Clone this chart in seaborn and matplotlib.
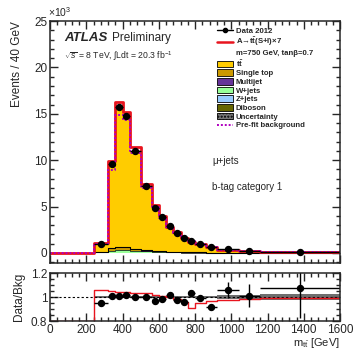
import matplotlib
matplotlib.use('Agg')
import matplotlib.pyplot as plt
import matplotlib.patches as mpatches
import matplotlib.lines as mlines
from matplotlib.ticker import MultipleLocator
import numpy as np
import pandas as pd
import seaborn as sns

sns.set_style('ticks')
plt.rcParams['font.family'] = ['Liberation Sans', 'DejaVu Sans']
plt.rcParams['mathtext.fontset'] = 'custom'
plt.rcParams['mathtext.rm'] = 'Liberation Sans'
plt.rcParams['mathtext.it'] = 'Liberation Sans:italic'
plt.rcParams['mathtext.bf'] = 'Liberation Sans:bold'

# bin edges of m_tt [GeV]
edges = [0, 240, 320, 360, 400, 440, 500, 560, 600, 640, 680, 720, 760, 800, 860, 920, 1040, 1160, 1600]

# events / 40 GeV in units of 10^3
data = [0, 0.97, 9.6, 15.7, 14.8, 11.0, 7.2, 4.9, 3.85, 2.9, 2.2, 1.6, 1.33, 0.97, 0.61, 0.40, 0.22, 0.08]
ttbar = [0, 0.89, 8.99, 14.85, 13.95, 10.53, 6.88, 4.83, 3.73, 2.71, 2.14, 1.58, 1.22, 0.92, 0.62, 0.35, 0.20, 0.067]
single_top = [0, 0.05, 0.25, 0.35, 0.32, 0.22, 0.15, 0.10, 0.08, 0.06, 0.05, 0.04, 0.03, 0.025, 0.018, 0.012, 0.007, 0.003]
multijet = [0, 0.02, 0.04, 0.05, 0.04, 0.03, 0.02, 0.015, 0.01, 0.008, 0.006, 0.005, 0.004, 0.003, 0.002, 0.001, 0.001, 0.0]
wjets = [0, 0.05, 0.18, 0.25, 0.24, 0.18, 0.13, 0.09, 0.07, 0.06, 0.05, 0.04, 0.03, 0.025, 0.02, 0.013, 0.008, 0.004]
zjets = [0, 0.01, 0.03, 0.04, 0.04, 0.03, 0.02, 0.015, 0.01, 0.008, 0.006, 0.005, 0.004, 0.003, 0.002, 0.0015, 0.001, 0.0005]
diboson = [0, 0.003, 0.006, 0.008, 0.008, 0.006, 0.005, 0.004, 0.003, 0.002, 0.002, 0.0015, 0.001, 0.001, 0.0008, 0.0005, 0.0003, 0.0001]
prefit = [0, 0.98, 8.9, 14.9, 14.3, 10.75, 7.05, 4.95, 3.82, 2.8, 2.2, 1.64, 1.27, 0.96, 0.65, 0.37, 0.215, 0.073]

# (S+I+B)/B for A -> tt x7, and relative uncertainties
sig_ratio = [0.8, 1.058, 1.048, 1.045, 1.04, 1.035, 1.03, 1.02, 1.01, 1.0, 0.985, 0.962, 0.905, 0.95, 0.965, 0.977, 0.986, 0.99]
data_err = [0, 0.02, 0.01, 0.008, 0.008, 0.008, 0.01, 0.012, 0.015, 0.015, 0.015, 0.02, 0.02, 0.02, 0.025, 0.065, 0.095, 0.25]
bkg_unc = [0, 0.012, 0.012, 0.012, 0.012, 0.012, 0.012, 0.012, 0.012, 0.012, 0.012, 0.012, 0.012, 0.012, 0.012, 0.014, 0.014, 0.028]

procs = ['tt', 'Single top', 'Multijet', 'W+jets', 'Z+jets', 'Diboson']
colors = ['#ffcc00', '#cc9900', '#663399', '#99ff99', '#99ccff', '#666600']

edges_a = np.array(edges, dtype=float)
centers = 0.5 * (edges_a[1:] + edges_a[:-1])
halfw = 0.5 * (edges_a[1:] - edges_a[:-1])

frames = []
for name, vals in zip(procs, [ttbar, single_top, multijet, wjets, zjets, diboson]):
    frames.append(pd.DataFrame({'mtt': centers, 'w': vals, 'process': name}))
df = pd.concat(frames, ignore_index=True)

total = np.sum([ttbar, single_top, multijet, wjets, zjets, diboson], axis=0)
small = np.sum([single_top, multijet, wjets, zjets, diboson], axis=0)
smaller = np.sum([multijet, wjets, zjets, diboson], axis=0)
data_a = np.array(data)
ratio = np.where(total > 0, data_a / np.where(total > 0, total, 1), np.nan)

fig = plt.figure(figsize=(3.55, 3.49), dpi=100)
ax = fig.add_axes([50 / 355, 86 / 349, 290 / 355, 242 / 349])
rax = fig.add_axes([50 / 355, 28 / 349, 290 / 355, 48 / 349])

sns.histplot(df, x='mtt', weights='w', hue='process', hue_order=procs, multiple='stack',
             bins=edges, palette=dict(zip(procs, colors)), element='bars', alpha=1,
             linewidth=0, legend=False, ax=ax)
# outlines of the small backgrounds
sns.histplot(x=centers, weights=small, bins=edges, element='step', fill=False,
             color='black', linewidth=0.8, ax=ax)
sns.histplot(x=centers, weights=smaller, bins=edges, element='step', fill=False,
             color='black', linewidth=0.5, ax=ax)

# uncertainty hatch on the stack
ax.fill_between(edges_a, np.append(total * (1 - np.array(bkg_unc)), 0), np.append(total * (1 + np.array(bkg_unc)), 0),
                step='post', facecolor='none', edgecolor='#555555', hatch='//////', linewidth=0)

sns.histplot(x=centers, weights=total * np.array(sig_ratio) * (total > 0), bins=edges, element='step',
             fill=False, color='#e8141e', linewidth=2.0, ax=ax)
sns.histplot(x=centers, weights=prefit, bins=edges, element='step', fill=False,
             color='#b000c0', linewidth=1.4, linestyle=(0, (1, 1)), ax=ax)

m = data_a > 0
ax.errorbar(centers[m], data_a[m], yerr=(np.array(data_err) * data_a)[m], xerr=halfw[m],
            fmt='o', color='black', markersize=4.3, elinewidth=1, capsize=0)

ax.set_xlim(0, 1600)
ax.set_ylim(-1.08, 25)
ax.set_xlabel('')
ax.set_ylabel('Events / 40 GeV', loc='top', fontsize=8.5, labelpad=8)
ax.set_xticklabels([])
ax.xaxis.set_major_locator(MultipleLocator(200))
ax.xaxis.set_minor_locator(MultipleLocator(40))
ax.yaxis.set_major_locator(MultipleLocator(5))
ax.yaxis.set_minor_locator(MultipleLocator(1))
fig.text(48 / 355, 1 - 12 / 349, r'$\times 10^{3}$', fontsize=7.5, ha='left', va='center')

for a in (ax, rax):
    a.tick_params(which='both', direction='in', top=True, right=True, labelsize=8.5, width=1, pad=2)
    a.tick_params(which='major', length=6)
    a.tick_params(which='minor', length=3)
    for s in a.spines.values():
        s.set_linewidth(1.1)
        s.set_visible(True)

# ATLAS labels
ax.text(0.05, 0.93, 'ATLAS', transform=ax.transAxes, fontsize=9.5, fontweight='bold',
        fontstyle='italic', va='center')
ax.text(0.215, 0.93, 'Preliminary', transform=ax.transAxes, fontsize=8.5, va='center')
ax.text(0.05, 0.855, r'$\sqrt{s}$ = 8 TeV, $\int$Ldt = 20.3 fb$^{-1}$', transform=ax.transAxes,
        fontsize=6.2, va='center')
ax.text(0.56, 0.42, '\u03bc+jets', transform=ax.transAxes, fontsize=7, va='center')
ax.text(0.56, 0.315, 'b-tag category 1', transform=ax.transAxes, fontsize=7, va='center')

# legend
handles = [
    mlines.Line2D([], [], color='black', marker='o', markersize=3, lw=1),
    mlines.Line2D([], [], color='#e8141e', lw=1.8),
    mlines.Line2D([], [], linestyle='none'),
]
for c in colors:
    handles.append(mpatches.Patch(facecolor=c, edgecolor='black', linewidth=0.6))
handles.append(mpatches.Patch(facecolor='#777777', edgecolor='black', hatch='.....', linewidth=0.6))
handles.append(mlines.Line2D([], [], color='#b000c0', lw=1.4, linestyle=(0, (1, 1))))
labels = ['Data 2012', 'A\u2192$\\mathbf{t\\bar{t}}$(S+I)\u00d77', 'm=750 GeV, tan\u03b2=0.7',
          '$\\mathbf{t\\bar{t}}$', 'Single top', 'Multijet', 'W+jets', 'Z+jets', 'Diboson',
          'Uncertainty', 'Pre-fit background']
leg = ax.legend(handles, labels, loc='upper left', bbox_to_anchor=(0.575, 0.975), frameon=False,
                prop={'size': 5.6, 'weight': 'bold'}, handlelength=2.1, handleheight=0.9,
                handletextpad=0.35, labelspacing=0.1, borderaxespad=0, borderpad=0)

# ratio panel
rax.fill_between(edges_a, np.append(1 - np.array(bkg_unc), 1), np.append(1 + np.array(bkg_unc), 1),
                 step='post', color='#555555', alpha=0.85, linewidth=0)
rax.axhline(1, color='black', linestyle=(0, (2, 2)), linewidth=0.8)
sns.histplot(x=centers, weights=sig_ratio, bins=edges, element='step', fill=False,
             color='#e8141e', linewidth=1.0, ax=rax)
rax.errorbar(centers[m], ratio[m], yerr=np.array(data_err)[m], xerr=halfw[m],
             fmt='o', color='black', markersize=4.3, elinewidth=1, capsize=0)
rax.set_xlim(0, 1600)
rax.set_ylim(0.8, 1.2)
rax.set_yticks([0.8, 1.0, 1.2])
rax.set_yticklabels(['0.8', '1', '1.2'])
rax.yaxis.set_minor_locator(MultipleLocator(0.05))
rax.xaxis.set_major_locator(MultipleLocator(200))
rax.xaxis.set_minor_locator(MultipleLocator(40))
rax.set_ylabel('Data/Bkg', fontsize=8.5, labelpad=4)
rax.set_xlabel(r'm$_{\mathrm{t\bar{t}}}$ [GeV]', fontsize=8, loc='right', labelpad=0)

fig.savefig('out.png', dpi=100)
